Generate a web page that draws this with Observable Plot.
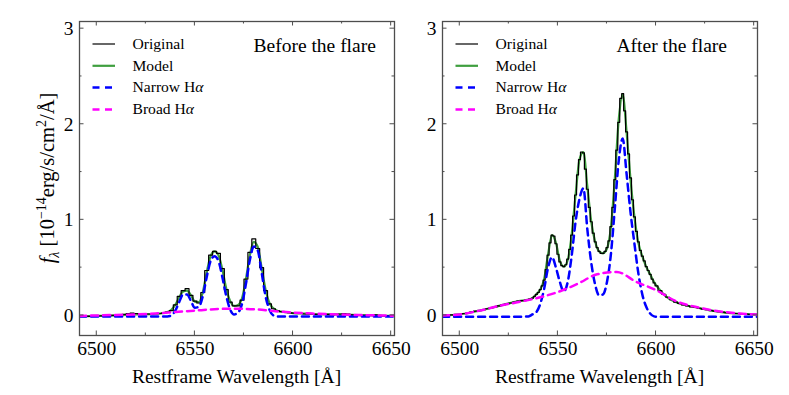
<!DOCTYPE html>
<html><head><meta charset="utf-8">
<script src="https://cdn.jsdelivr.net/npm/d3@7"></script>
<script src="https://cdn.jsdelivr.net/npm/@observablehq/plot@0.6"></script>
<style>
body{margin:0;background:#fff;}
#wrap{position:relative;width:789px;height:395px;font-family:"Liberation Serif",serif;}
#wrap svg{position:absolute;top:0;}
</style></head><body><div id="wrap"></div>
<script>
// ---------- data ----------
const beforeWave = [6492,6494,6496,6498,6500,6502,6504,6506,6508,6510,6512,6514,6516,6518,6520,6522,6524,6526,6528,6530,6532,6534,6536,6538,6540,6542,6544,6546,6548,6550,6552,6554,6556,6558,6560,6562,6564,6566,6568,6570,6572,6574,6576,6578,6580,6582,6584,6586,6588,6590,6592,6594,6596,6598,6600,6602,6604,6606,6608,6610,6612,6614,6616,6618,6620,6622,6624,6626,6628,6630,6632,6634,6636,6638,6640,6642,6644,6646,6648,6650];
const beforeOriginal = [-0.01,-0.01,-0.01,-0.01,-0.005,-0.005,0,0,0,0.005,
  0.005,0.01,0.02,0.025,0.02,0.015,0.015,0.015,0.015,0.02,
  0.02,0.025,0.035,0.05,0.11,0.2,0.26,0.28,0.21,0.15,
  0.13,0.24,0.47,0.63,0.67,0.65,0.49,0.27,0.14,0.1,
  0.1,0.16,0.38,0.66,0.8,0.7,0.5,0.26,0.12,0.07,
  0.05,0.04,0.035,0.03,0.025,0.02,0.02,0.015,0.015,0.015,
  0.01,0.01,0.01,0.01,0.005,0.01,0.015,0.02,0.015,0.005,
  0.005,0,0,0,0,0.005,0,-0.005,-0.005,-0.005];

const afterWave = [6492,6494,6496,6498,6500,6502,6504,6506,6508,6510,6512,6514,6516,6518,6520,6522,6524,6526,6528,6530,6532,6534,
  6536,6537,6538,6539,6540,6541,6542,6543,6544,6545,6546,6547,6548,6549,6550,6551,6552,6553,6554,6555,6556,6557,6558,6559,
  6560,6561,6562,6563,6564,6565,6566,6567,6568,6569,6570,6571,6572,6573,6574,6575,6576,6577,6578,6579,
  6580,6581,6582,6583,6584,6585,6586,6587,6588,6589,6590,6591,6592,6593,6594,6595,6596,6597,6598,6599,6600,
  6602,6604,6606,6608,6610,6612,6614,6616,6618,6620,6622,6624,6626,6628,6630,6632,6634,6636,6638,6640,6642,6644,6646,6648,6650];
const afterOriginal = [0,0,0.005,0.01,0.01,0.02,0.025,0.035,0.045,0.05,0.06,0.07,0.08,0.09,0.1,0.11,0.12,0.13,0.14,0.15,0.155,0.16,
  0.17,0.18,0.2,0.22,0.24,0.27,0.31,0.37,0.48,0.63,0.76,0.84,0.83,0.75,0.64,0.56,0.52,0.51,0.53,0.59,0.69,0.84,1.04,1.26,
  1.47,1.63,1.71,1.7,1.53,1.32,1.13,0.98,0.86,0.77,0.71,0.67,0.65,0.65,0.67,0.71,0.78,0.93,1.13,1.42,
  1.73,2.02,2.27,2.32,2.14,1.92,1.69,1.44,1.21,1.03,0.88,0.77,0.68,0.62,0.57,0.51,0.47,0.43,0.38,0.34,0.31,
  0.26,0.22,0.19,0.165,0.14,0.125,0.11,0.1,0.09,0.085,0.075,0.065,0.06,0.05,0.045,0.04,0.035,0.03,0.025,0.02,0.02,0.015,0.015,0.01,0.01];

const beforeCompWave = [6491,6500,6510,6520,6530,6534,
  6536,6538,6540,6542,6544,6546,6548,6550,6552,6554,6556,6558,6560,6562,6564,6566,6568,6570,6572,6574,
  6576,6578,6580,6582,6584,6586,6588,6590,6592,6594,6596,6598,6600,
  6605,6610,6620,6630,6640,6652];
const beforeModel = [-0.01,-0.005,0,0.01,0.015,0.025,
  0.035,0.06,0.11,0.19,0.25,0.26,0.21,0.145,0.14,0.24,
  0.45,0.62,0.67,0.63,0.48,0.28,0.15,0.1,0.11,0.18,
  0.38,0.63,0.77,0.72,0.5,0.27,0.13,0.075,0.05,0.04,
  0.035,0.03,0.025,
  0.02,0.015,0.01,0.005,0,-0.005];
const beforeNarrow = [-0.01,-0.01,-0.01,-0.01,-0.01,-0.01,
  -0.01,0,0.05,0.14,0.22,0.22,0.15,0.08,0.09,0.2,
  0.4,0.57,0.62,0.57,0.4,0.2,0.06,0.01,0.03,0.12,
  0.33,0.58,0.72,0.68,0.45,0.2,0.06,0,-0.01,-0.01,
  -0.01,-0.01,-0.01,
  -0.01,-0.01,-0.01,-0.01,-0.01,-0.01];

const afterCompWave = [6491,6500,6510,6520,6530,
  6535,6537,6539,6541,6543,6545,6547,6549,6551,6553,6555,6557,6559,6561,6563,6565,6567,6569,6571,6573,
  6575,6577,6579,6581,6583,6585,6587,6589,6591,6593,6595,6597,6599,6601,
  6605,6610,6620,6630,6640,6652];
const afterModel = [0,0.01,0.05,0.1,0.15,
  0.165,0.18,0.22,0.27,0.38,0.64,0.84,0.76,0.57,0.51,
  0.58,0.84,1.26,1.63,1.71,1.35,0.98,0.77,0.67,0.65,
  0.7,0.92,1.43,2.05,2.31,1.92,1.42,1.03,0.76,0.62,
  0.51,0.43,0.35,0.29,
  0.2,0.14,0.085,0.045,0.02,0.01];
const afterNarrow = [-0.015,-0.015,-0.015,-0.015,-0.015,
  -0.01,0.01,0.035,0.12,0.28,0.5,0.61,0.5,0.35,0.25,
  0.35,0.62,0.98,1.22,1.33,0.9,0.55,0.32,0.21,0.22,
  0.35,0.64,1.12,1.62,1.85,1.48,1.08,0.75,0.44,0.22,
  0.09,0.02,-0.01,-0.015,
  -0.015,-0.015,-0.015,-0.015,-0.015,-0.015];

const broadWave = [6491,6500,6510,6520,6530,6540,6550,6560,6570,6580,6590,6600,6610,6620,6630,6640,6652];
const beforeBroad = [-0.005,0,0.005,0.01,0.02,0.035,0.05,0.065,0.071,0.065,0.046,0.03,0.019,0.012,0.006,0.002,-0.004];
const afterBroad = [0,0.01,0.05,0.1,0.14,0.185,0.245,0.33,0.43,0.455,0.35,0.265,0.15,0.09,0.05,0.025,0.01];

const xMajorTicks = [6500,6550,6600,6650];
const xMinorTicks = [6525,6575,6625];
const yMajorTicks = [0,1,2,3];
const yMinorTicks = [0.5,1.5,2.5];
const xDomain = [6491.2,6651.7];
const yDomain = [-0.21,3.075];
const legendLabels = ["Original","Model","Narrow H","Broad H"];
const panelTitles = ["Before the flare","After the flare"];
const xLabel = "Restframe Wavelength [Å]";

// ---------- drawing ----------
const pts = (w, v) => w.map((x, i) => ({w: x, v: v[i]}));
const FRAME = "#4d4d4d";
const colors = {orig:"#000000", model:"#3f9f3f", narrow:"#0000ff", broad:"#ff00ff"};
const serif = "'Liberation Serif', serif";

function panel({orig, model, narrow, broad, title, yLabel, width, ml, mr, left}) {
  const mt = 21, mb = 60, H = 395;
  const plot = Plot.plot({
    width, height: H, marginLeft: ml, marginRight: mr, marginTop: mt, marginBottom: mb,
    x: {domain: xDomain}, y: {domain: yDomain},
    style: {background: "transparent", overflow: "visible", fontFamily: serif, color: "#000"},
    marks: [
      Plot.line(model, {x: "w", y: "v", stroke: colors.model, strokeWidth: 2.2, curve: "monotone-x", clip: true}),
      Plot.line(orig, {x: "w", y: "v", stroke: colors.orig, strokeWidth: 1.2, curve: "step", clip: true}),
      Plot.line(narrow, {x: "w", y: "v", stroke: colors.narrow, strokeWidth: 2.5, strokeDasharray: "7,5", curve: "monotone-x", clip: true}),
      Plot.line(broad, {x: "w", y: "v", stroke: colors.broad, strokeWidth: 2.5, strokeDasharray: "7,5", curve: "monotone-x", clip: true}),
      Plot.axisX({ticks: xMajorTicks, tickSize: 0, tickPadding: 6, fontSize: 19.5, label: null, tickFormat: d => String(d)}),
      Plot.axisY({ticks: yMajorTicks, tickSize: 0, tickPadding: 6, fontSize: 19.5, label: null, tickFormat: d => String(d)}),
      Plot.frame({stroke: FRAME, strokeWidth: 1.3})
    ]
  });
  plot.style.left = left + "px";
  const xs = plot.scale("x"), ys = plot.scale("y");
  const fx0 = ml, fx1 = width - mr, fy0 = mt, fy1 = H - mb;
  const svg = d3.select(plot);
  const g = svg.append("g").attr("stroke", FRAME).attr("stroke-width", 1);
  const ln = (x1, y1, x2, y2) => g.append("line").attr("x1", x1).attr("y1", y1).attr("x2", x2).attr("y2", y2);
  for (const [vals, len] of [[xMajorTicks, 4.5], [xMinorTicks, 2.5]])
    for (const v of vals) { const p = xs.apply(v); ln(p, fy1, p, fy1 - len); ln(p, fy0, p, fy0 + len); }
  for (const [vals, len] of [[yMajorTicks, 4.5], [yMinorTicks, 2.5]])
    for (const v of vals) { const p = ys.apply(v); ln(fx0, p, fx0 + len, p); ln(fx1, p, fx1 - len, p); }

  // legend
  const lg = svg.append("g");
  const styles = [
    {c: colors.orig, w: 1.2, d: null},
    {c: colors.model, w: 2.2, d: null},
    {c: colors.narrow, w: 2.5, d: "7,5.5"},
    {c: colors.broad, w: 2.5, d: "7,5.5"}
  ];
  legendLabels.forEach((lab, i) => {
    const yy = fy0 + 23 + i * 21.8;
    const l = lg.append("line").attr("x1", fx0 + 13.5).attr("x2", fx0 + 36).attr("y1", yy).attr("y2", yy)
      .attr("stroke", styles[i].c).attr("stroke-width", styles[i].w);
    if (styles[i].d) l.attr("stroke-dasharray", styles[i].d);
    const t = lg.append("text").attr("x", fx0 + 53.5).attr("y", yy + 4.8)
      .attr("font-family", serif).attr("font-size", 15.6).attr("text-anchor", "start").attr("fill", "#000");
    t.append("tspan").text(lab);
    if (i >= 2) t.append("tspan").attr("font-style", "italic").text("α");
  });
  // title
  svg.append("text").attr("x", fx0 + 174.5).attr("y", fy0 + 30.5).attr("font-family", serif)
    .attr("font-size", 19.5).attr("text-anchor", "start").attr("fill", "#000").text(title);
  // x label
  svg.append("text").attr("x", (fx0 + fx1) / 2).attr("y", 383).attr("font-family", serif)
    .attr("font-size", 19.5).attr("text-anchor", "middle").attr("fill", "#000").text(xLabel);
  if (yLabel) {
    const t = svg.append("text").attr("transform", `translate(54,${(fy0 + fy1) / 2}) rotate(-90)`)
      .attr("font-family", serif).attr("font-size", 20.5).attr("text-anchor", "middle").attr("fill", "#000");
    t.append("tspan").attr("font-style", "italic").text("f");
    t.append("tspan").attr("font-style", "italic").attr("font-size", 14).attr("dy", 4.5).text("λ");
    t.append("tspan").attr("dy", -4.5).text(" [10");
    t.append("tspan").attr("font-size", 14).attr("dy", -8).text("−14");
    t.append("tspan").attr("dy", 8).text("erg/s/cm");
    t.append("tspan").attr("font-size", 14).attr("dy", -8).text("2");
    t.append("tspan").attr("dy", 8).text("/Å]");
  }
  return plot;
}

const wrap = document.getElementById("wrap");
wrap.appendChild(panel({
  orig: pts(beforeWave, beforeOriginal), model: pts(beforeCompWave, beforeModel),
  narrow: pts(beforeCompWave, beforeNarrow), broad: pts(broadWave, beforeBroad),
  title: panelTitles[0], yLabel: true, width: 420, ml: 79, mr: 26, left: 0
}));
wrap.appendChild(panel({
  orig: pts(afterWave, afterOriginal), model: pts(afterCompWave, afterModel),
  narrow: pts(afterCompWave, afterNarrow), broad: pts(broadWave, afterBroad),
  title: panelTitles[1], yLabel: false, width: 389, ml: 42, mr: 32, left: 400
}));
</script></body></html>
